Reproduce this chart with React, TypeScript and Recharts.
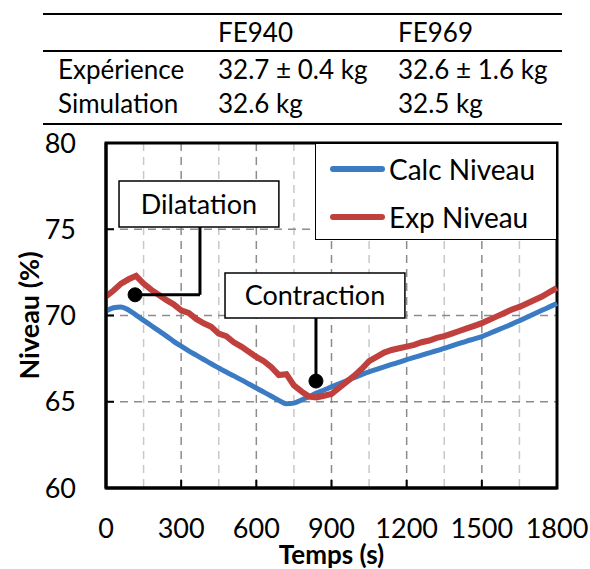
import {
  CartesianGrid,
  Legend,
  Line,
  LineChart,
  ReferenceArea,
  ReferenceDot,
  ReferenceLine,
  XAxis,
  YAxis,
} from "recharts";

// temps (s), one reading every 30 s
const times = [
  0, 30, 60, 90, 120, 150, 180, 210, 240, 270, 300, 330, 360, 390, 420, 450, 480, 510, 540, 570, 600,
  630, 660, 690, 720, 750, 780, 810, 840, 870, 900, 930, 960, 990, 1020, 1050, 1080, 1110, 1140, 1170,
  1200, 1230, 1260, 1290, 1320, 1350, 1380, 1410, 1440, 1470, 1500, 1530, 1560, 1590, 1620, 1650,
  1680, 1710, 1740, 1770, 1800,
];

const calcNiveau = [
  70.25, 70.45, 70.5, 70.32, 70.02, 69.72, 69.42, 69.12, 68.82, 68.5, 68.22, 67.95, 67.7, 67.45, 67.2,
  66.96, 66.72, 66.5, 66.27, 66.03, 65.8, 65.56, 65.32, 65.08, 64.88, 64.92, 65.1, 65.3, 65.5, 65.68,
  65.86, 66.04, 66.22, 66.4, 66.57, 66.74, 66.88, 67.02, 67.16, 67.3, 67.44, 67.57, 67.7, 67.83,
  67.96, 68.1, 68.24, 68.38, 68.52, 68.64, 68.78, 68.96, 69.14, 69.32, 69.5, 69.7, 69.9, 70.1, 70.3,
  70.5, 70.7,
];

const expNiveau = [
  71.1, 71.45, 71.85, 72.1, 72.3, 71.85, 71.5, 71.2, 70.9, 70.65, 70.3, 70.15, 69.8, 69.55, 69.35,
  68.95, 68.8, 68.45, 68.2, 67.9, 67.6, 67.35, 67.0, 66.55, 66.6, 65.95, 65.6, 65.3, 65.25, 65.35,
  65.45, 65.8, 66.15, 66.5, 66.9, 67.35, 67.6, 67.85, 68.0, 68.1, 68.2, 68.3, 68.45, 68.55, 68.7,
  68.8, 68.95, 69.1, 69.25, 69.4, 69.56, 69.75, 69.95, 70.15, 70.35, 70.5, 70.7, 70.9, 71.1, 71.35,
  71.6,
];

const xTicks = [0, 300, 600, 900, 1200, 1500, 1800];
const yTicks = [60, 65, 70, 75, 80];
const majorX = [300, 600, 900, 1200, 1500];
const minorX = [150, 450, 750, 1050, 1350, 1650];
const majorY = [65, 70, 75];

const tableHead = ["", "FE940", "FE969"];
const tableRows = [
  ["Expérience", "32.7 ± 0.4 kg", "32.6 ± 1.6 kg"],
  ["Simulation", "32.6 kg", "32.5 kg"],
];

const data = times.map((t, i) => ({ t, calc: calcNiveau[i], exp: expNiveau[i] }));

const BLUE = "#3b7bc4";
const RED = "#c0403e";

function LegendBox({ payload }: any) {
  return (
    <div
      style={{
        width: 242,
        height: 97,
        boxSizing: "border-box",
        border: "1.5px solid #000",
        background: "#fff",
        paddingTop: 1,
      }}
    >
      {(payload ?? []).map((p: any) => (
        <div key={p.value} style={{ display: "flex", alignItems: "center", height: 48 }}>
          <span
            style={{
              display: "inline-block",
              width: 55,
              height: 6,
              marginLeft: 14,
              marginRight: 4,
              borderRadius: 3,
              background: p.color,
            }}
          />
          <span style={{ fontSize: 28, lineHeight: "30px", color: "#000" }}>{p.value}</span>
        </div>
      ))}
    </div>
  );
}

function YTitle({ viewBox }: any) {
  const cx = viewBox.x + 28;
  const cy = viewBox.y + viewBox.height / 2;
  return (
    <text
      x={cx}
      y={cy}
      transform={`rotate(-90 ${cx} ${cy})`}
      textAnchor="middle"
      dominantBaseline="central"
      fontSize={27}
      fontWeight={700}
      fill="#000"
    >
      Niveau (%)
    </text>
  );
}

function XTitle({ viewBox }: any) {
  return (
    <text
      x={viewBox.x + viewBox.width / 2}
      y={viewBox.y + viewBox.height - 5}
      textAnchor="middle"
      fontSize={26}
      fontWeight={700}
      fill="#000"
    >
      Temps (s)
    </text>
  );
}

function Table() {
  const cols = [58, 218, 398];
  const base = [42, 79, 113];
  return (
    <svg width={590} height={130} style={{ position: "absolute", left: 0, top: 0 }}>
      <line x1={43} x2={562} y1={14} y2={14} stroke="#000" strokeWidth={2} />
      <line x1={43} x2={562} y1={51} y2={51} stroke="#000" strokeWidth={2} />
      <line x1={43} x2={562} y1={124} y2={124} stroke="#000" strokeWidth={2} />
      {[tableHead, ...tableRows].map((row, r) =>
        row.map((cell, c) => (
          <text key={`${r}-${c}`} x={cols[c]} y={base[r]} fontSize={26} fill="#000">
            {cell}
          </text>
        ))
      )}
    </svg>
  );
}

export default function App() {
  return (
    <div
      style={{
        position: "absolute",
        left: 0,
        top: 0,
        width: 590,
        height: 569,
        background: "#fff",
        fontFamily: "Lato, 'Open Sans', sans-serif",
      }}
    >
      <Table />
      <div style={{ position: "absolute", left: 0, top: 0 }}>
        <LineChart width={590} height={569} data={data} margin={{ top: 143, right: 33, bottom: 0, left: 0 }}>
          <CartesianGrid
            horizontal={false}
            verticalValues={minorX}
            stroke="#c8c8c8"
            strokeWidth={1.5}
            strokeDasharray="8 6"
          />
          <CartesianGrid
            horizontalValues={majorY}
            verticalValues={majorX}
            stroke="#8c8c8c"
            strokeWidth={1.5}
            strokeDasharray="8 6"
          />
          <XAxis
            dataKey="t"
            type="number"
            domain={[0, 1800]}
            ticks={xTicks}
            interval={0}
            height={81}
            tickSize={-8}
            tickMargin={39}
            tick={{ fontSize: 27, fill: "#000" }}
            axisLine={{ stroke: "#000", strokeWidth: 3 }}
            tickLine={{ stroke: "#000", strokeWidth: 2 }}
            label={<XTitle />}
          />
          <YAxis
            type="number"
            domain={[60, 80]}
            ticks={yTicks}
            interval={0}
            width={106}
            tickSize={-8}
            tickMargin={38}
            tick={{ fontSize: 27, fill: "#000" }}
            axisLine={{ stroke: "#000", strokeWidth: 3 }}
            tickLine={{ stroke: "#000", strokeWidth: 2 }}
            label={<YTitle />}
          />
          <Legend
            layout="horizontal"
            verticalAlign="middle"
            align="center"
            content={<LegendBox />}
            wrapperStyle={{ left: 315, top: 143, width: 242, height: 97 }}
          />
          <Line
            type="monotone"
            dataKey="calc"
            name="Calc Niveau"
            stroke={BLUE}
            strokeWidth={5}
            dot={false}
            isAnimationActive={false}
          />
          <Line
            type="linear"
            dataKey="exp"
            name="Exp Niveau"
            stroke={RED}
            strokeWidth={6}
            dot={false}
            isAnimationActive={false}
          />
          <ReferenceArea
            x1={0}
            x2={1800}
            y1={60}
            y2={80}
            fill="none"
            stroke="#000"
            strokeWidth={3}
          />
          <ReferenceArea
            x1={52}
            x2={690}
            y1={75.13}
            y2={77.8}
            fill="#fff"
            fillOpacity={1}
            stroke="#000"
            strokeWidth={1.5}
            label={{ value: "Dilatation", position: "center", fontSize: 27, fill: "#000" }}
          />
          <ReferenceLine
            segment={[
              { x: 375, y: 75.13 },
              { x: 375, y: 71.2 },
            ]}
            stroke="#000"
            strokeWidth={3}
          />
          <ReferenceLine
            segment={[
              { x: 375, y: 71.2 },
              { x: 116, y: 71.2 },
            ]}
            stroke="#000"
            strokeWidth={3}
          />
          <ReferenceDot x={116} y={71.2} r={7} fill="#000" stroke="#000" />
          <ReferenceArea
            x1={475}
            x2={1193}
            y1={69.86}
            y2={72.46}
            fill="#fff"
            fillOpacity={1}
            stroke="#000"
            strokeWidth={1.5}
            label={{ value: "Contraction", position: "center", fontSize: 27, fill: "#000" }}
          />
          <ReferenceLine
            segment={[
              { x: 838, y: 69.86 },
              { x: 838, y: 66.2 },
            ]}
            stroke="#000"
            strokeWidth={3}
          />
          <ReferenceDot x={838} y={66.2} r={7} fill="#000" stroke="#000" />
        </LineChart>
      </div>
    </div>
  );
}
